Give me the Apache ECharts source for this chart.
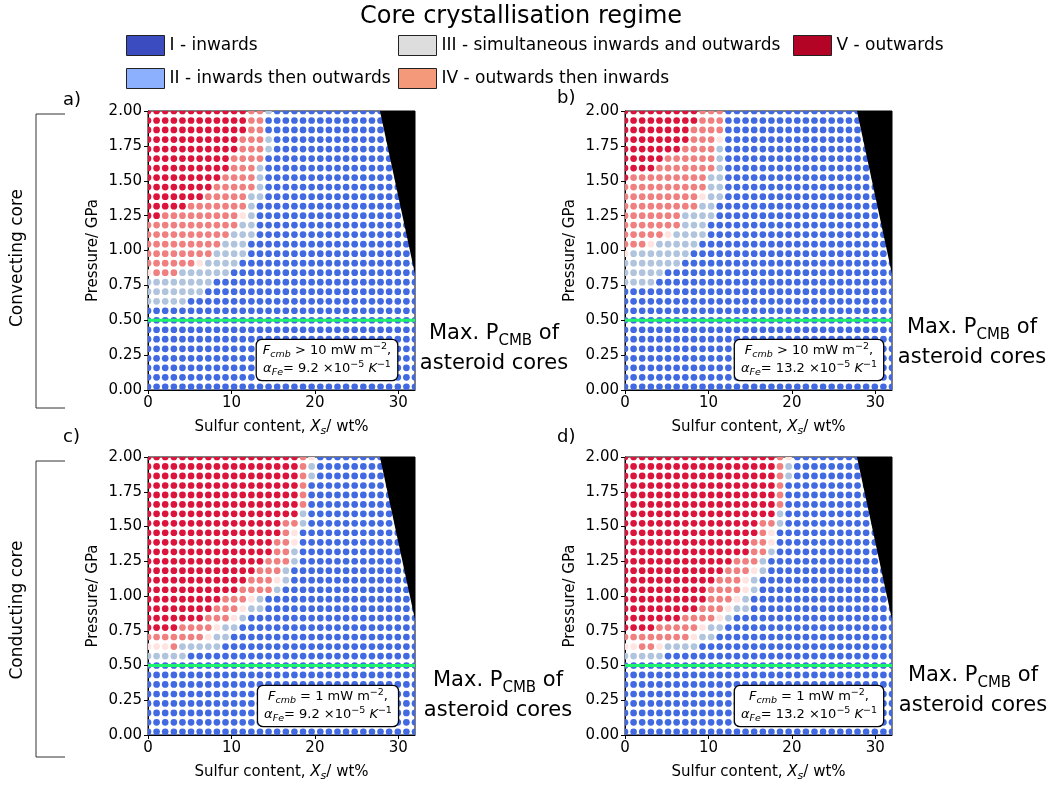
<!DOCTYPE html>
<html><head><meta charset="utf-8">
<script src="https://cdn.jsdelivr.net/npm/echarts@6/dist/echarts.min.js"></script>
<style>html,body{margin:0;padding:0;background:#fff}#c{width:1053px;height:786px}</style>
</head><body><div id="c"></div>
<script>
// ---------------- data ----------------
const sulfurGrid = [0, 1.03, 2.06, 3.10, 4.13, 5.16, 6.19, 7.23, 8.26, 9.29, 10.32, 11.35, 12.39, 13.42, 14.45, 15.48,
  16.52, 17.55, 18.58, 19.61, 20.65, 21.68, 22.71, 23.74, 24.77, 25.81, 26.84, 27.87, 28.90, 29.94, 30.97, 32.00];
const pressureGrid = [2.000, 1.932, 1.864, 1.795, 1.727, 1.659, 1.591, 1.523, 1.455, 1.386, 1.318, 1.250, 1.182,
  1.114, 1.045, 0.977, 0.909, 0.841, 0.773, 0.705, 0.636, 0.568, 0.500, 0.432, 0.364, 0.295, 0.227, 0.159, 0.091, 0.023];
const regimeNames = ['I - inwards', 'II - inwards then outwards', 'III - simultaneous inwards and outwards',
  'IV - outwards then inwards', 'V - outwards'];
const dotColors = ['#4169e1', '#b0c4de', '#ffe4e1', '#f08080', '#dc143c'];
const legendColors = ['#3b4cc0', '#8db0fe', '#dddddd', '#f49a7b', '#b40426'];
const xTicks = [0, 10, 20, 30];
// each row (top = 2.00 GPa) : runs of "regime x count" along sulfur
const panelA = [
  '5x12 4x2 2x1 1x17', '5x12 4x2 1x18', '5x12 4x2 1x18', '5x11 4x3 2x1 1x17', '5x11 4x3 2x1 1x17',
  '5x10 4x4 1x18', '5x10 4x3 2x1 1x18', '5x9 4x4 2x1 1x18', '5x8 4x5 2x1 1x18', '5x7 4x5 2x2 1x18',
  '5x5 4x7 2x1 1x19', '5x2 4x9 3x1 2x1 1x19', '4x11 2x2 1x19', '4x10 2x3 1x19', '4x9 2x3 1x20',
  '4x8 2x4 1x20', '4x6 3x1 2x4 1x21', '3x1 4x3 2x6 1x22', '2x8 1x24', '2x7 1x25',
  '2x5 1x27', '1x32', '1x32', '1x32', '1x32', '1x32', '1x32', '1x32', '1x32', '1x32'];
const panelB = [
  '5x9 4x3 1x20', '5x9 4x3 1x20', '5x8 4x4 1x20', '5x8 4x3 3x1 1x20', '5x7 4x4 2x1 1x20',
  '5x5 4x6 2x1 1x20', '5x4 4x7 2x1 1x20', '5x1 4x9 2x2 1x20', '4x10 2x2 1x20', '4x9 3x1 2x2 1x20',
  '4x9 2x2 1x21', '4x7 2x4 1x21', '4x7 2x3 1x22', '4x5 3x1 2x4 1x22', '4x3 3x1 2x5 1x23',
  '3x1 2x7 1x24', '2x7 1x25', '2x5 1x27', '2x4 1x28', '1x32',
  '1x32', '1x32', '1x32', '1x32', '1x32', '1x32', '1x32', '1x32', '1x32', '1x32'];
const panelC = [
  '5x18 4x1 3x1 1x12', '5x18 4x1 2x1 1x12', '5x18 4x1 2x1 1x12', '5x18 4x1 1x13', '5x18 4x1 1x13',
  '5x18 4x1 1x13', '5x18 2x1 1x13', '5x16 4x2 2x1 1x13', '5x16 4x1 3x1 1x14', '5x15 4x2 3x1 1x14',
  '5x15 4x2 2x1 1x14', '5x14 4x3 2x1 1x14', '5x13 4x3 2x1 1x15', '5x12 4x3 3x1 2x1 1x15', '5x11 4x4 2x1 1x16',
  '5x9 4x3 3x1 2x1 1x18', '5x8 4x3 3x1 2x2 1x18', '5x7 4x3 3x1 2x1 1x20', '5x4 4x4 3x1 2x2 1x21', '4x7 3x1 2x2 1x22',
  '3x3 4x1 2x5 1x23', '2x5 1x27', '1x32', '1x32', '1x32', '1x32', '1x32', '1x32', '1x32', '1x32'];
const panelD = [
  '5x18 4x1 3x1 1x12', '5x18 4x1 2x1 1x12', '5x18 4x1 2x1 1x12', '5x18 4x1 1x13', '5x18 4x1 1x13',
  '5x18 4x1 1x13', '5x18 2x1 1x13', '5x16 4x2 2x1 1x13', '5x16 4x1 3x1 1x14', '5x15 4x2 3x1 1x14',
  '5x15 4x2 2x1 1x14', '5x13 4x3 2x1 1x15', '5x12 4x3 3x1 2x1 1x15', '5x11 4x3 3x1 2x1 1x16', '5x10 4x4 3x1 2x1 1x16',
  '5x10 4x3 3x1 2x1 1x17', '5x9 4x3 3x1 2x2 1x17', '5x7 4x4 3x1 2x1 1x19', '5x4 4x5 3x1 2x2 1x20', '4x8 3x1 2x2 1x21',
  '3x2 4x2 3x1 2x4 1x23', '2x5 1x27', '1x32', '1x32', '1x32', '1x32', '1x32', '1x32', '1x32', '1x32'];
const panels = [panelA, panelB, panelC, panelD];
const solidusRegion = [[27.8, 2.0], [32.0, 2.0], [32.0, 0.83]];
const maxPcmb = 0.5;
const panelLetters = ['a)', 'b)', 'c)', 'd)'];
const fluxText = ['> 10', '> 10', '= 1', '= 1'];
const alphaText = ['9.2', '13.2', '9.2', '13.2'];

// ---------------- layout ----------------
const FONT = 'DejaVu Sans';
const gridBoxes = [
  {left: 148, top: 111, width: 267, height: 279},
  {left: 625, top: 111, width: 267, height: 279},
  {left: 148, top: 457, width: 267, height: 278},
  {left: 625, top: 457, width: 267, height: 278}
];

function parseRow(s) {
  const out = [];
  s.split(' ').forEach(t => { const [c, n] = t.split('x'); for (let i = 0; i < +n; i++) out.push(+c); });
  return out;
}

const grid = [], xAxis = [], yAxis = [], series = [];
gridBoxes.forEach((g, i) => {
  grid.push(Object.assign({show: true, borderColor: '#000', borderWidth: 1, containLabel: false}, g));
  xAxis.push({
    gridIndex: i, type: 'value', min: 0, max: 32,
    axisLine: {show: true, onZero: false, lineStyle: {color: '#000', width: 1}},
    axisTick: {show: true, length: 4, customValues: xTicks, lineStyle: {color: '#000'}},
    axisLabel: {customValues: xTicks, fontSize: 15, fontFamily: FONT, color: '#000', margin: 6},
    splitLine: {show: false},
    name: 'Sulfur content, {i|X}{s|s}/ wt%', nameLocation: 'middle', nameGap: 27,
    nameTextStyle: {fontSize: 15, fontFamily: FONT, color: '#000', lineHeight: 20,
      rich: {i: {fontStyle: 'italic', fontSize: 15, fontFamily: FONT, color: '#000', lineHeight: 20},
             s: {fontStyle: 'italic', fontSize: 11, fontFamily: FONT, color: '#000', lineHeight: 10, verticalAlign: 'bottom'}}}
  });
  yAxis.push({
    gridIndex: i, type: 'value', min: 0, max: 2, interval: 0.25,
    axisLine: {show: true, onZero: false, lineStyle: {color: '#000', width: 1}},
    axisTick: {show: true, length: 4, lineStyle: {color: '#000'}},
    axisLabel: {fontSize: 15, fontFamily: FONT, color: '#000', margin: 6, formatter: v => v.toFixed(2)},
    splitLine: {show: false},
    name: 'Pressure/ GPa', nameLocation: 'middle', nameGap: 47,
    nameTextStyle: {fontSize: 15, fontFamily: FONT, color: '#000'}
  });
  const buckets = [[], [], [], [], []];
  panels[i].forEach((rowStr, r) => {
    parseRow(rowStr).forEach((c, k) => buckets[c - 1].push([sulfurGrid[k], pressureGrid[r]]));
  });
  buckets.forEach((pts, c) => {
    series.push({
      type: 'custom', name: regimeNames[c], xAxisIndex: i, yAxisIndex: i, clip: true, silent: true, z: 2,
      itemStyle: {color: dotColors[c]},
      encode: {x: 0, y: 1},
      data: pts,
      renderItem: (params, api) => {
        const p = api.coord([api.value(0), api.value(1)]);
        return {type: 'circle', shape: {cx: p[0], cy: p[1], r: 3.35}, style: {fill: dotColors[c]}};
      }
    });
  });
  series.push({
    type: 'custom', xAxisIndex: i, yAxisIndex: i, clip: true, silent: true, z: 3,
    data: solidusRegion, encode: {x: 0, y: 1},
    renderItem: (params, api) => {
      if (params.dataIndex !== 0) return null;
      return {type: 'polygon', shape: {points: solidusRegion.map(p => api.coord(p))}, style: {fill: '#000'}};
    }
  });
  series.push({
    type: 'line', xAxisIndex: i, yAxisIndex: i, silent: true, z: 4, symbol: 'none',
    lineStyle: {color: '#1ef46b', width: 3},
    data: [[0, maxPcmb], [32, maxPcmb]]
  });
});

const legendCommon = {
  orient: 'vertical', itemWidth: 38, itemHeight: 20, itemGap: 12, icon: 'rect', selectedMode: false, padding: 0,
  textStyle: {fontSize: 17, fontFamily: FONT, color: '#000'}
};
const legItem = c => ({name: regimeNames[c], itemStyle: {color: legendColors[c], borderColor: '#222', borderWidth: 1}});
const legend = [
  Object.assign({left: 126, top: 35, data: [legItem(0), legItem(1)]}, legendCommon),
  Object.assign({left: 398, top: 35, data: [legItem(2), legItem(3)]}, legendCommon),
  Object.assign({left: 793, top: 35, data: [legItem(4)]}, legendCommon)
];

const graphic = [];
const letterPos = [[63, 100], [557, 98], [63, 437], [557, 437]];
panelLetters.forEach((t, i) => graphic.push({type: 'text', x: letterPos[i][0], y: letterPos[i][1],
  style: {text: t, fontSize: 18, fontFamily: FONT, fill: '#000', align: 'left', verticalAlign: 'middle'}}));
// brackets
[[114, 408, 258, 'Convecting core'], [461, 757, 610, 'Conducting core']].forEach(b => {
  graphic.push({type: 'polyline', shape: {points: [[65, b[0]], [36, b[0]], [36, b[1]], [65, b[1]]]},
    style: {stroke: '#333', lineWidth: 1, fill: null}});
  graphic.push({type: 'text', x: 18, y: b[2], rotation: Math.PI / 2,
    style: {text: b[3], fontSize: 17, fontFamily: FONT, fill: '#000', align: 'center', verticalAlign: 'middle'}});
});
// annotation boxes
const boxCenters = [[327, 360], [809, 360], [328, 706], [809, 706]];
const boxRich = {
  n: {fontSize: 13, fontFamily: FONT, fill: '#000', lineHeight: 18, align: 'center'},
  it: {fontSize: 13, fontFamily: FONT, fontStyle: 'italic', fill: '#000', lineHeight: 18, align: 'center'},
  sub: {fontSize: 9.5, fontFamily: FONT, fontStyle: 'italic', fill: '#000', lineHeight: 9, verticalAlign: 'bottom', align: 'center'},
  sup: {fontSize: 9.5, fontFamily: FONT, fill: '#000', lineHeight: 9, verticalAlign: 'top', align: 'center'},
  supi: {fontSize: 9.5, fontFamily: FONT, fill: '#000', lineHeight: 9, verticalAlign: 'top', align: 'center'}
};
boxCenters.forEach((c, i) => {
  graphic.push({type: 'text', x: c[0], y: c[1], z: 100,
    style: {
      text: '{it|F}{sub|cmb}{n| ' + fluxText[i] + ' mW m}{sup|−2}{n|,}\n{it|α}{sub|Fe}{n|= ' + alphaText[i] + ' ×10}{sup|−5}{it| K}{supi|−1}',
      rich: boxRich, align: 'center', verticalAlign: 'middle',
      backgroundColor: '#fff', borderColor: '#000', borderWidth: 1.3, borderRadius: 5, padding: [2, 6, 2, 6]
    }});
});
// Max P_CMB labels
const maxPos = [[494, 349], [972, 343], [498, 696], [973, 691]];
maxPos.forEach(p => {
  graphic.push({type: 'text', x: p[0], y: p[1], z: 100,
    style: {
      text: '{n|Max. P}{sub|CMB}{n| of}\n{n|asteroid cores}', align: 'center', verticalAlign: 'middle',
      rich: {n: {fontSize: 21, fontFamily: FONT, fill: '#000', lineHeight: 30, align: 'center'},
             sub: {fontSize: 15, fontFamily: FONT, fill: '#000', lineHeight: 14, verticalAlign: 'bottom', align: 'center'}}
    }});
});

const option = {
  animation: false,
  backgroundColor: '#fff',
  title: {text: 'Core crystallisation regime', left: 355, top: 0,
    textStyle: {fontSize: 24, fontWeight: 'normal', fontFamily: FONT, color: '#000'}},
  legend, grid, xAxis, yAxis, series, graphic
};
const chart = echarts.init(document.getElementById('c'), null, {renderer: 'canvas'});
chart.setOption(option);
</script>
</body></html>
